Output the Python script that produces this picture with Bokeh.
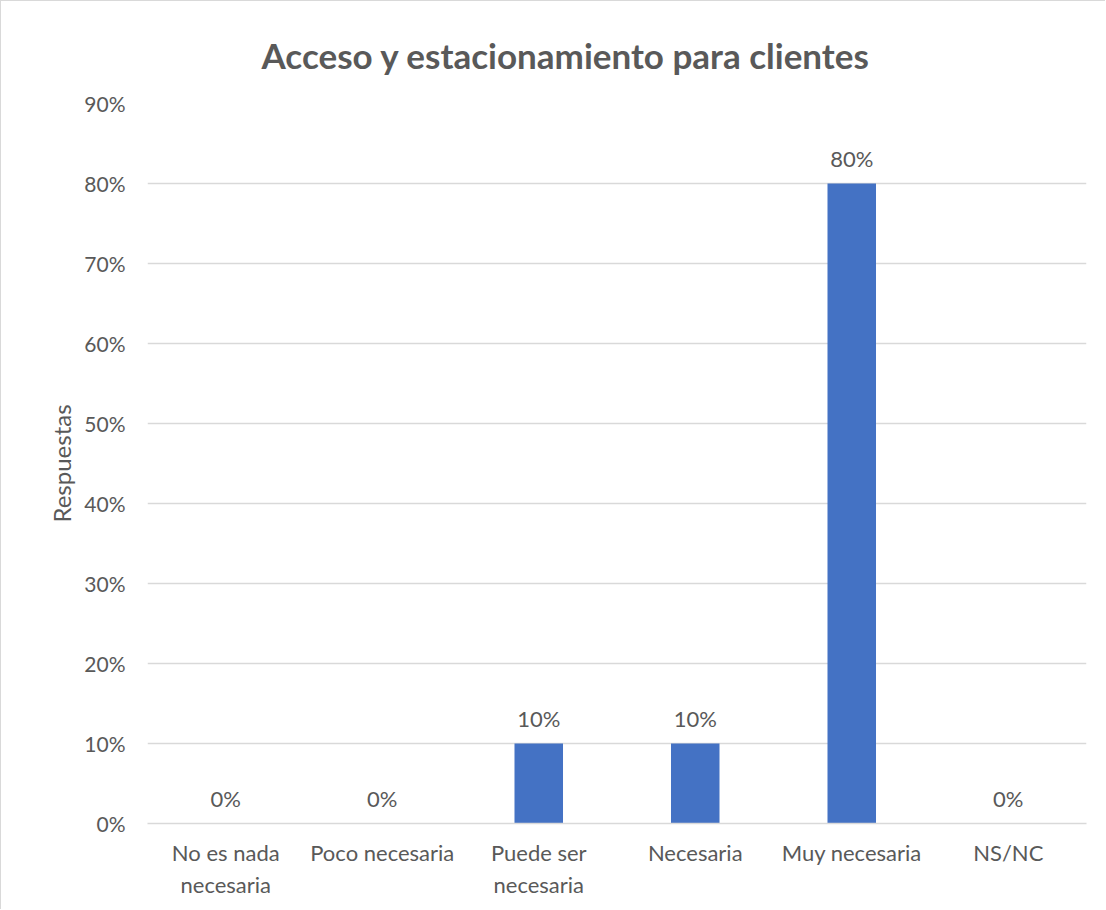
from bokeh.plotting import figure
from bokeh.models import ColumnDataSource, FixedTicker, NumeralTickFormatter, LabelSet, Range1d
from bokeh.core.properties import value
from bokeh.embed import file_html
from bokeh.resources import INLINE

categories = ["No es nada\nnecesaria", "Poco necesaria", "Puede ser\nnecesaria", "Necesaria", "Muy necesaria", "NS/NC"]
values = [0.0, 0.0, 0.10, 0.10, 0.80, 0.0]
labels = ["0%", "0%", "10%", "10%", "80%", "0%"]
y_ticks = [0.0, 0.1, 0.2, 0.3, 0.4, 0.5, 0.6, 0.7, 0.8, 0.9]

FONT = "Lato"
TXT = "#595959"
GRID = "#d9d9d9"

src = ColumnDataSource(dict(cat=categories, val=values, lab=labels))

p = figure(x_range=categories, y_range=Range1d(0, 0.9), width=1105, height=909,
           output_backend="svg", toolbar_location=None,
           min_border_left=146, min_border_right=20, min_border_top=102, min_border_bottom=87,
           title="Acceso y estacionamiento para clientes")
p.styles = {"border-left": "1px solid #d9d9d9", "border-top": "1px solid #d9d9d9"}
p.outline_line_color = None
p.background_fill_color = "white"
p.border_fill_color = "white"

p.title.align = "left"
p.title.offset = 114
p.title.standoff = 56
p.title.text_font = FONT
p.title.text_font_size = "35px"
p.title.text_font_style = "bold"
p.title.text_color = TXT

p.vbar(x="cat", top="val", width=0.31, source=src, fill_color="#4472c4", line_color=None)

p.add_layout(LabelSet(x="cat", y="val", text="lab", source=src, text_align="center",
                      text_baseline="bottom", y_offset=12, text_font=value(FONT),
                      text_font_size=value("22px"), text_color=TXT))

p.yaxis.ticker = FixedTicker(ticks=y_ticks)
p.yaxis.formatter = NumeralTickFormatter(format="0%")
p.yaxis.axis_label = "Respuestas"
p.yaxis.axis_label_text_font = FONT
p.yaxis.axis_label_text_font_size = "24px"
p.yaxis.axis_label_text_font_style = "normal"
p.yaxis.axis_label_text_color = TXT
p.yaxis.axis_label_standoff = 5
p.yaxis.axis_line_color = None
p.yaxis.major_tick_line_color = None
p.yaxis.minor_tick_line_color = None
p.yaxis.major_label_standoff = 16
p.yaxis.major_label_text_font_size = "21px"

p.xaxis.axis_line_color = GRID
p.xaxis.axis_line_width = 1.5
p.xaxis.major_tick_line_color = None
p.xaxis.minor_tick_line_color = None
p.xaxis.major_label_standoff = 9
p.xaxis.major_label_text_font_size = "22px"

for ax in (p.xaxis, p.yaxis):
    ax.major_label_text_font = FONT
    ax.major_label_text_color = TXT

p.xgrid.grid_line_color = None
p.ygrid.grid_line_color = GRID
p.ygrid.grid_line_width = 1.5
p.ygrid.ticker = FixedTicker(ticks=y_ticks)

open("out.html", "w").write(file_html(p, INLINE))
